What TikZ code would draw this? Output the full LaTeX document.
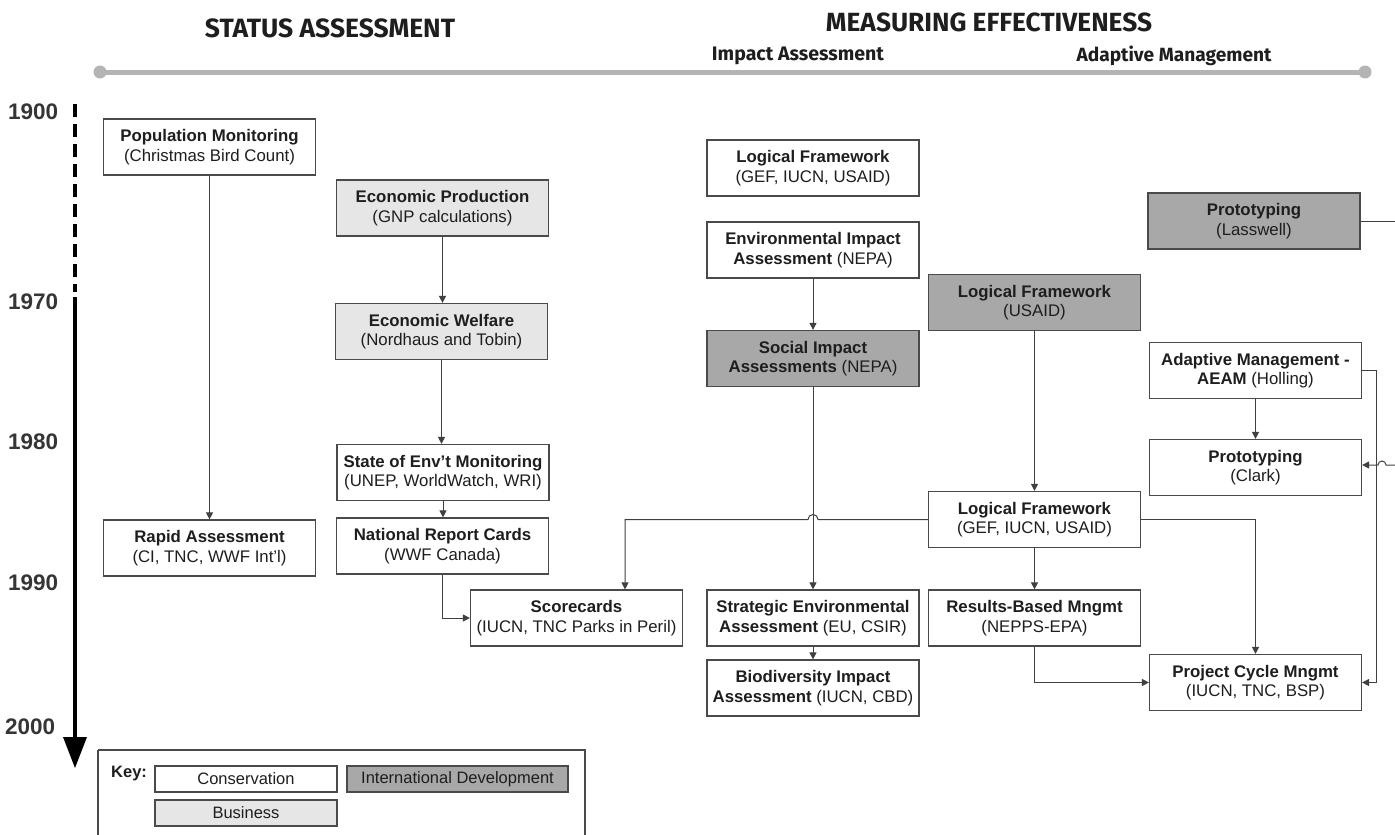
\documentclass[tikz,border=0pt]{standalone}
\usepackage{graphicx}
\usepackage{fontspec}
\setmainfont{Liberation Sans}
\newfontfamily\hdfont{Fira Sans}
\usetikzlibrary{arrows.meta}
\definecolor{lgray}{HTML}{E6E6E6}
\definecolor{dgray}{HTML}{A8A8A8}
\definecolor{bord}{HTML}{4A4A4A}
\definecolor{linec}{HTML}{404040}
\definecolor{tl}{HTML}{B4B4B4}
\definecolor{txt}{HTML}{1E1E1E}
\begin{document}
\begin{tikzpicture}[x=1pt,y=-1pt,
 box/.style={draw=bord, line width=1.2pt, minimum width=212pt, minimum height=56pt, align=center, inner sep=1pt, text=txt, font=\fontsize{16.8}{19.5}\selectfont},
 cons/.style={box, fill=white},
 bus/.style={box, fill=lgray},
 intl/.style={box, fill=dgray},
 kbox/.style={draw=bord, line width=1.2pt, minimum height=26pt, inner sep=1pt, text=txt, font=\fontsize{16.5}{18}\selectfont},
 conn/.style={draw=linec, line width=1pt, -{Triangle[length=7pt,width=7pt]}},
 plain/.style={draw=linec, line width=1pt},
 year/.style={font=\fontsize{22.5}{22.5}\selectfont\bfseries, text=txt!90, anchor=west, inner sep=0},
 hd/.style={font=\hdfont\bfseries, text=txt, inner sep=0}
]
\useasboundingbox[fill=white] (0,0) rectangle (1395,835);

% headers
\node[hd] (hsa) at (330,28) {\resizebox{250pt}{!}{STATUS ASSESSMENT}};
\node[hd] (hme) at (989,22) {\resizebox{326pt}{!}{MEASURING EFFECTIVENESS}};
\node[hd] (hia) at (798,56) {\resizebox{172pt}{!}{Impact Assessment}};
\node[hd] (ham) at (1174,56) {\resizebox{195pt}{!}{Adaptive Management}};

% timeline
\draw[tl, line width=5pt] (100,72) -- (1365,72);
\fill[tl] (100,72) circle[radius=6.5pt];
\fill[tl] (1365,72) circle[radius=6.5pt];

% years axis
\node[year] (y1900) at (8,112) {1900};
\node[year] (y1970) at (8,302) {1970};
\node[year] (y1980) at (8,442) {1980};
\node[year] (y1990) at (8,583) {1990};
\node[year] (y2000) at (5,727) {2000};
\draw[black, line width=4pt, dash pattern=on 13pt off 7pt] (75,104) -- (75,292);
\draw[black, line width=4pt] (75,297) -- (75,742);
\fill[black] (63,737) -- (87,737) -- (75,768) -- cycle;

% boxes
\node[cons] (popm) at (209.5,147) {\textbf{Population Monitoring}\\(Christmas Bird Count)};
\node[bus] (ecop) at (442.5,208) {\textbf{Economic Production}\\(GNP calculations)};
\node[bus] (ecow) at (441.5,331.5) {\textbf{Economic Welfare}\\(Nordhaus and Tobin)};
\node[cons] (soe) at (443,472.5) {\textbf{State of Env't Monitoring}\\(UNEP, WorldWatch, WRI)};
\node[cons] (nrc) at (442.5,546) {\textbf{National Report Cards}\\(WWF Canada)};
\node[cons] (rapid) at (209.5,548) {\textbf{Rapid Assessment}\\(CI, TNC, WWF Int'l)};
\node[cons] (score) at (576.5,618) {\textbf{Scorecards}\\(IUCN, TNC Parks in Peril)};
\node[cons] (lf1) at (813,168) {\textbf{Logical Framework}\\(GEF, IUCN, USAID)};
\node[cons] (eia) at (813,250) {\textbf{Environmental Impact}\\\textbf{Assessment} (NEPA)};
\node[intl] (sia) at (813,358.5) {\textbf{Social Impact}\\\textbf{Assessments} (NEPA)};
\node[cons] (sea) at (813,618) {\textbf{Strategic Environmental}\\\textbf{Assessment} (EU, CSIR)};
\node[cons] (bia) at (813,688) {\textbf{Biodiversity Impact}\\\textbf{Assessment} (IUCN, CBD)};
\node[intl] (lfu) at (1034.5,302.5) {\textbf{Logical Framework}\\(USAID)};
\node[cons] (lf2) at (1034.5,519.5) {\textbf{Logical Framework}\\(GEF, IUCN, USAID)};
\node[cons] (rbm) at (1034.5,618) {\textbf{Results-Based Mngmt}\\(NEPPS-EPA)};
\node[intl] (lass) at (1254,221) {\textbf{Prototyping}\\(Lasswell)};
\node[cons] (aeam) at (1255.5,370.5) {\textbf{Adaptive Management -}\\\textbf{AEAM} (Holling)};
\node[cons] (clark) at (1255.5,467.5) {\textbf{Prototyping}\\(Clark)};
\node[cons] (pcm) at (1255.5,682.5) {\textbf{Project Cycle Mngmt}\\(IUCN, TNC, BSP)};

% connectors
\draw[conn] (popm.south) -- (rapid.north);
\draw[conn] (ecop.south) -- (ecop.south |- ecow.north);
\draw[conn] (ecow.south) -- (ecow.south |- soe.north);
\draw[conn] (soe.south) -- (soe.south |- nrc.north);
\draw[conn] (nrc.south) |- (score.west);
\draw[conn] (eia.south) -- (sia.north);
\draw[conn] (sia.south) -- (sea.north);
\draw[conn] (sea.south) -- (bia.north);
\draw[conn] (lfu.south) -- (lf2.north);
\coordinate (scx) at (625,519.5);
\draw[conn] (lf2.west) -- (818,519.5) arc[start angle=0, end angle=180, radius=5pt] -- (scx) -- (scx |- score.north);
\draw[conn] (lf2.south) -- (rbm.north);
\draw[conn] (lf2.east) -| (pcm.north);
\draw[conn] (rbm.south) |- (pcm.west);
\draw[conn] (aeam.south) -- (clark.north);
\draw[conn] (aeam.east) -- ++(14,0) |- (pcm.east);
\coordinate (rt1) at (1395,221);
\draw[plain] (lass.east) -- (rt1);
\coordinate (rt2) at (1395,465);
\draw[conn] (rt2) -- (1386,465) arc[start angle=0, end angle=180, radius=4pt] -- (clark.east |- rt2);

% key
\draw[bord, line width=1.2pt] (98,750) -- (585,750) -- (585,840) (98,750) -- (98,840);
\node[font=\fontsize{16.5}{18}\selectfont\bfseries, text=txt, anchor=west, inner sep=0] (keyl) at (111,774) {Key:};
\node[kbox, fill=white, minimum width=182pt] (kc) at (246,779) {Conservation};
\node[kbox, fill=dgray, minimum width=221pt] (ki) at (457.5,779) {International Development};
\node[kbox, fill=lgray, minimum width=182pt] (kb) at (246,813) {Business};
\end{tikzpicture}
\end{document}
